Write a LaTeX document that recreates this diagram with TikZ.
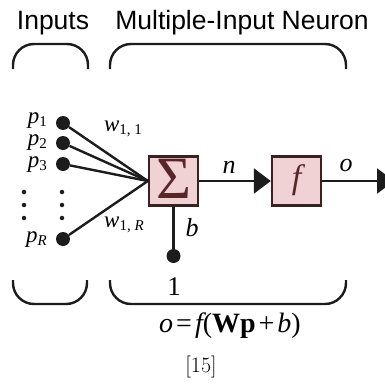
\documentclass[tikz,border=0pt]{standalone}
\usepackage{fontspec}
\newfontfamily\tms{Liberation Serif}
\newfontfamily\sansf{Liberation Sans}
\usetikzlibrary{arrows.meta}
\definecolor{linec}{RGB}{28,28,28}
\definecolor{boxfill}{RGB}{240,210,212}
\definecolor{boxdraw}{RGB}{58,34,34}
\definecolor{sigc}{RGB}{88,38,40}
\newcommand\lsub[1]{\raisebox{-3pt}{\fontsize{15}{15}\selectfont\upshape #1}}
\begin{document}
\begin{tikzpicture}[x=1pt,y=-1pt,
  wire/.style={line width=2.4pt, draw=linec},
  dotn/.style={circle, fill=linec, inner sep=0pt, minimum size=14pt},
  smalldot/.style={circle, fill=linec, inner sep=0pt, minimum size=4.5pt},
  blk/.style={draw=boxdraw, fill=boxfill, line width=2.4pt, minimum size=49pt, inner sep=0pt},
  brace/.style={line width=2.4pt, draw=linec, rounded corners=21pt},
  lbl/.style={font=\tms\itshape\fontsize{23}{23}\selectfont, inner sep=0pt},
  big/.style={font=\tms\itshape\fontsize{26}{26}\selectfont, inner sep=0pt},
  head/.style={font=\sansf\fontsize{26.5}{26.5}\selectfont, inner sep=0pt, anchor=base},
  arr/.style={wire, -{Triangle[length=17pt, width=25pt]}}]
\useasboundingbox (0,0) rectangle (385,391);
% headings
\node[head] (hin) at (53,29) {Inputs};
\node[head] (hneu) at (242,29) {Multiple-Input Neuron};
% top braces
\draw[brace] (13,69) -- (13,44) -- (88,44) -- (88,69);
\draw[brace] (110,69) -- (110,44) -- (346,44) -- (346,69);
% bottom braces
\draw[brace] (13,280) -- (13,304) -- (87,304) -- (87,280);
\draw[brace] (110,280) -- (110,304) -- (346,304) -- (346,280);
% inputs
\node[dotn] (p1) at (63,123) {};
\node[dotn] (p2) at (63,143) {};
\node[dotn] (p3) at (63,164) {};
\node[dotn] (pR) at (63,239) {};
\node[lbl, anchor=east] (lp1) at (47,121) {p\lsub{1}};
\node[lbl, anchor=east] (lp2) at (47,143) {p\lsub{2}};
\node[lbl, anchor=east] (lp3) at (47,165) {p\lsub{3}};
\node[lbl, anchor=east] (lpR) at (47,240) {p\lsub{\itshape R}};
\foreach \yy/\nm in {192/a,205/b,218/c}{
  \node[smalldot] (dl\nm) at (24,\yy) {};
  \node[smalldot] (dr\nm) at (62,\yy) {};
}
% summation block
\node[blk] (sum) at (173.5,181) {};
\node[font=\tms\fontsize{60}{60}\selectfont, text=sigc, inner sep=0pt] (sig) at (173.5,179) {Σ};
\draw[wire] (p1) -- (sum.west);
\draw[wire] (p2) -- (sum.west);
\draw[wire] (p3) -- (sum.west);
\draw[wire] (pR) -- (sum.west);
\node[lbl] (w11) at (123,129) {w\lsub{1, 1}};
\node[lbl] (w1R) at (124,225) {w\lsub{1, \itshape R}};
% bias
\node[dotn] (one) at (173.5,256) {};
\draw[wire] (sum.south) -- (one);
\node[big] (lb) at (192,228) {b};
\node[big, font=\tms\fontsize{27}{27}\selectfont] (l1) at (174,287) {1};
% transfer block
\node[blk] (f) at (296.5,181) {};
\node[font=\tms\itshape\fontsize{34}{34}\selectfont, text=sigc, inner sep=0pt] (fl) at (296.5,180) {f};
\draw[arr] (sum.east) -- (f.west);
\node[big] (ln) at (229,167) {n};
\coordinate (out) at (394,181);
\draw[arr] (f.east) -- (out);
\node[big] (lo) at (346,165) {o};
% equation
\node[font=\tms\fontsize{28}{28}\selectfont, inner sep=0pt] (eq) at (230,326)
  {{\itshape o}\hspace{3pt}=\hspace{3pt}{\itshape f}(\textbf{Wp}\hspace{3pt}+\hspace{3pt}{\itshape b})};
\node[font=\fontsize{22}{22}\selectfont, inner sep=0pt] (cite) at (201,367) {[15]};
\end{tikzpicture}
\end{document}
